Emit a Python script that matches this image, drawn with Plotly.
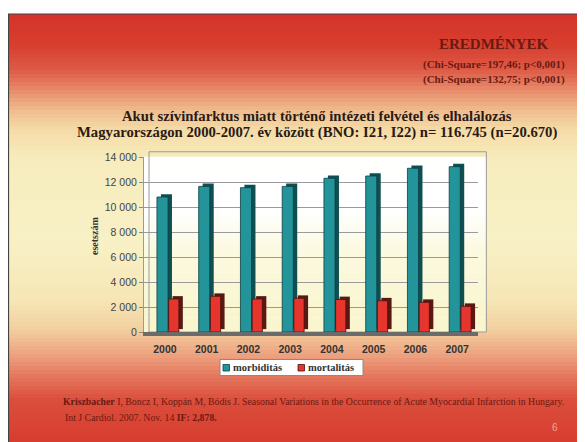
import plotly.graph_objects as go

# ---- data ----
years = ["2000", "2001", "2002", "2003", "2004", "2005", "2006", "2007"]
morbiditas = [10800, 11650, 11550, 11650, 12300, 12480, 13100, 13230]
mortalitas = [2640, 2860, 2640, 2700, 2600, 2500, 2380, 2060]
series_names = ["morbiditás", "mortalitás"]
ytick_vals = [0, 2000, 4000, 6000, 8000, 10000, 12000, 14000]
ytick_text = ["0", "2 000", "4 000", "6 000", "8 000", "10 000", "12 000", "14 000"]

# ---- geometry ----
# The page body adds an 8px offset, so the figure is laid out in
# "window" coordinates minus OFF.
FW, FH = 585, 442
OFF = 8
PLOT_L, PLOT_R, PLOT_T, PLOT_B = 144, 478, 157, 332  # window pixels
ML = PLOT_L - OFF
MR = FW - (PLOT_R - OFF)
MT = PLOT_T - OFF
MB = FH - (PLOT_B - OFF)
PW = FW - ML - MR
PH = FH - MT - MB


def px(x):
    return (x - OFF - ML) / PW


def py(y):
    return (FH - MB - (y - OFF)) / PH


def hex2rgb(h):
    h = h.lstrip("#")
    return tuple(int(h[i:i + 2], 16) for i in (0, 2, 4))


def lerp_color(stops, t):
    for (t0, c0), (t1, c1) in zip(stops[:-1], stops[1:]):
        if t0 <= t <= t1:
            f = 0 if t1 == t0 else (t - t0) / (t1 - t0)
            a, b = hex2rgb(c0), hex2rgb(c1)
            return "rgb(%d,%d,%d)" % tuple(round(a[i] + (b[i] - a[i]) * f) for i in range(3))
    return "rgb(%d,%d,%d)" % hex2rgb(stops[-1][1])


bg_stops = [
    (14, "#d4332a"), (45, "#d73e2e"), (70, "#de5a46"), (90, "#e88a6a"),
    (110, "#f0bb8e"), (130, "#f5dca8"), (160, "#f7ecbc"), (240, "#f8f1c6"),
    (300, "#f6e6b6"), (330, "#f2cfa0"), (355, "#eca27e"), (378, "#e3745c"),
    (400, "#db4e3b"), (450, "#d63a2d"),
]

shapes = []
shapes.append(dict(type="rect", xref="paper", yref="paper", x0=px(0), x1=px(FW + 20),
                   y0=py(0), y1=py(FH + 20), fillcolor="white", line_width=0, layer="below"))
step = 4
for y in range(14, FH + 12, step):
    c = lerp_color(bg_stops, y + step / 2)
    shapes.append(dict(type="rect", xref="paper", yref="paper", x0=px(8), x1=px(FW + 20),
                       y0=py(y), y1=py(y + step + 0.5), fillcolor=c, line_width=0, layer="below"))
shapes.append(dict(type="line", xref="paper", yref="paper", x0=px(8), x1=px(FW + 20),
                   y0=py(14), y1=py(14), line=dict(color="#444", width=1.2), layer="below"))
shapes.append(dict(type="line", xref="paper", yref="paper", x0=px(8.5), x1=px(8.5),
                   y0=py(14), y1=py(FH + 20), line=dict(color="#444", width=1.2), layer="below"))

# back wall of the plot: white to pale yellow
wall_stops = [(0.0, "#f9f5cc"), (0.45, "#fbf9df"), (0.7, "#ffffff"), (1.0, "#ffffff")]
n = 30
for i in range(n):
    t0, t1 = i / n, (i + 1) / n
    shapes.append(dict(type="rect", xref="x domain", yref="y domain", x0=0, x1=1.025,
                       y0=t0, y1=t1 + 0.002, fillcolor=lerp_color(wall_stops, (t0 + t1) / 2),
                       line_width=0, layer="below"))
shapes.append(dict(type="rect", xref="x domain", yref="y domain", x0=0.015, x1=1.025,
                   y0=0.0, y1=1.03, fillcolor="rgba(0,0,0,0)",
                   line=dict(color="#9a9a9a", width=1), layer="below"))

teal, teal_side = "#23959a", "#0f4f52"
red, red_side = "#e5352c", "#5a1813"

# legend box and swatches (drawn manually for compact sizing)
shapes.append(dict(type="rect", xref="paper", yref="paper", x0=px(220), x1=px(363),
                   y0=py(359.5), y1=py(375.5), fillcolor="white",
                   line=dict(color="#8a8a8a", width=1), layer="above"))
shapes.append(dict(type="rect", xref="paper", yref="paper", x0=px(223), x1=px(229.5),
                   y0=py(364.5), y1=py(371), fillcolor=teal,
                   line=dict(color="#0d3f42", width=0.8), layer="above"))
shapes.append(dict(type="rect", xref="paper", yref="paper", x0=px(298), x1=px(304.5),
                   y0=py(364.5), y1=py(371), fillcolor=red,
                   line=dict(color="#4a120f", width=0.8), layer="above"))

fig = go.Figure()

depth_dx = 0.095
depth_base = 230

fig.add_trace(go.Bar(x=years, y=morbiditas, base=depth_base, offset=-0.19 + depth_dx, width=0.265,
                     marker=dict(color=teal_side, line=dict(width=0)), showlegend=False,
                     hoverinfo="skip"))
fig.add_trace(go.Bar(x=years, y=mortalitas, base=depth_base, offset=0.09 + depth_dx, width=0.245,
                     marker=dict(color=red_side, line=dict(width=0)), showlegend=False,
                     hoverinfo="skip"))
fig.add_trace(go.Bar(x=years, y=morbiditas, offset=-0.19, width=0.265, name=series_names[0],
                     marker=dict(color=teal, line=dict(color="#0d3f42", width=0.8))))
fig.add_trace(go.Bar(x=years, y=mortalitas, offset=0.09, width=0.245, name=series_names[1],
                     marker=dict(color=red, line=dict(color="#4a120f", width=0.8))))

serif = "Liberation Serif, Times New Roman, serif"
sans = "Liberation Sans, Arial, sans-serif"
dark_red = "#6a1a12"

annotations = [
    dict(text="<b>EREDMÉNYEK</b>", x=px(494), y=py(44), font=dict(family=serif, size=15, color=dark_red)),
    dict(text="<b>(Chi-Square=197,46; p&lt;0,001)</b>", x=px(567), y=py(64), xanchor="right",
         font=dict(family=serif, size=11, color=dark_red)),
    dict(text="<b>(Chi-Square=132,75; p&lt;0,001)</b>", x=px(567), y=py(79), xanchor="right",
         font=dict(family=serif, size=11, color=dark_red)),
    dict(text="<b>Akut szívinfarktus miatt történő intézeti felvétel és elhalálozás</b>",
         x=px(317), y=py(116), font=dict(family=serif, size=14.7, color="#2b1a12")),
    dict(text="<b>Magyarországon 2000-2007. év között (BNO: I21, I22) n= 116.745 (n=20.670)</b>",
         x=px(317), y=py(133), font=dict(family=serif, size=14.7, color="#2b1a12")),
    dict(text="<b>esetszám</b>", x=px(94), y=py(236), textangle=-90,
         font=dict(family=serif, size=10, color="#333")),
    dict(text="<b>Kriszbacher</b> I, Boncz I, Koppán M, Bódis J. Seasonal Variations in the Occurrence "
              "of Acute Myocardial Infarction in Hungary.",
         x=px(61), y=py(401), xanchor="left", font=dict(family=serif, size=9.8, color=dark_red)),
    dict(text="Int J Cardiol. 2007. Nov. 14 <b>IF: 2,878.</b>",
         x=px(63), y=py(417), xanchor="left", font=dict(family=serif, size=9.8, color=dark_red)),
    dict(text="6", x=px(555), y=py(427), font=dict(family=sans, size=10, color="#f3a48c")),
    # legend entries
    dict(text="<b>" + series_names[0] + "</b>", x=px(231), y=py(367.5), xanchor="left",
         font=dict(family=serif, size=10.5, color="#333")),
    dict(text="<b>" + series_names[1] + "</b>", x=px(306), y=py(367.5), xanchor="left",
         font=dict(family=serif, size=10.5, color="#333")),
]
for a in annotations:
    a.setdefault("xanchor", "center")
    a.update(xref="paper", yref="paper", yanchor="middle", showarrow=False)

fig.update_layout(
    width=FW, height=FH,
    margin=dict(l=ML, r=MR, t=MT, b=MB, pad=0),
    paper_bgcolor="white",
    plot_bgcolor="rgba(0,0,0,0)",
    barmode="overlay",
    shapes=shapes,
    annotations=annotations,
    showlegend=False,
    xaxis=dict(type="category", showgrid=False, showline=True, linecolor="#6b6b6b", linewidth=4,
               ticks="", tickfont=dict(family=sans, size=10.5, color="#333", weight="bold"),
               ticklabelstandoff=4, range=[-0.5, 7.5]),
    yaxis=dict(range=[0, 14000], tickvals=ytick_vals, ticktext=ytick_text, showgrid=True,
               gridcolor="#9a9a9a", gridwidth=1, showline=True, linecolor="#9a9a9a", linewidth=1,
               ticks="outside", ticklen=4, tickcolor="#8a8a8a",
               tickfont=dict(family=sans, size=10.5, color="#444"), zeroline=False),
)

fig.write_html("out.html")
